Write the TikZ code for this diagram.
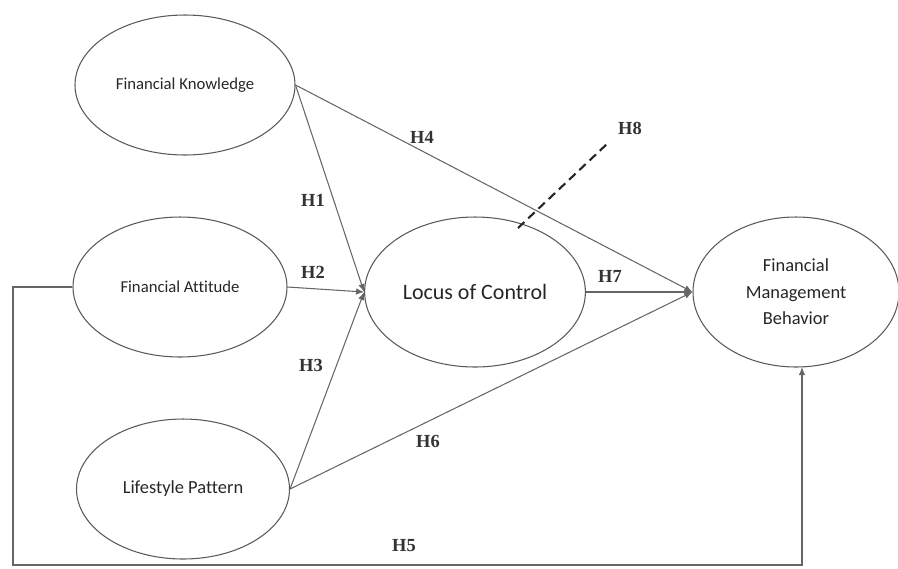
\documentclass[tikz,border=0pt]{standalone}
\usepackage{fontspec}
\setmainfont{Liberation Serif}
\newfontfamily\boxfont[Ligatures=NoCommon]{Carlito}
\usetikzlibrary{shapes.geometric}
\usetikzlibrary{arrows.meta}
\usetikzlibrary{positioning,calc}

\tikzset{
  construct/.style={ellipse, draw=black!65, line width=0.6pt, align=center,
                    font=\boxfont, text=black!85},
  path/.style={draw=black!60, line width=0.6pt, -{Latex[length=1.6mm,width=1.3mm]}},
  hyp/.style={font=\bfseries\fontsize{10.5}{12}\selectfont, text=black!80}
}

\begin{document}
\begin{tikzpicture}
   \useasboundingbox (0,0) rectangle (17.96,-11.36);

   \node[construct, minimum width=4.4cm,  minimum height=2.8cm, font=\boxfont\fontsize{9.5}{11}\selectfont] (fk)  at (3.70,-1.70) {Financial Knowledge};
   \node[construct, minimum width=4.28cm, minimum height=2.8cm, font=\boxfont\fontsize{9.5}{11}\selectfont] (fa)  at (3.60,-5.74) {Financial Attitude};
   \node[construct, minimum width=4.26cm, minimum height=2.8cm, font=\boxfont\fontsize{10.5}{12}\selectfont] (lp)  at (3.66,-9.78) {Lifestyle Pattern};
   \node[construct, minimum width=4.36cm, minimum height=3.0cm, font=\boxfont\fontsize{12.5}{14}\selectfont] (loc) at (9.50,-5.84) {Locus of Control};
   \node[construct, minimum width=4.12cm, minimum height=3.0cm, font=\boxfont\fontsize{10.5}{15}\selectfont] (fmb) at (15.92,-5.84) {Financial\\Management\\Behavior};

   % paths
   \draw[path] (fk.east) -- (loc.west);
   \draw[path] (fa.east) -- (loc.west);
   \draw[path] (lp.east) -- (loc.west);
   \draw[path] (fk.east) -- (fmb.west);
   \draw[path] (lp.east) -- (fmb.west);
   \draw[path] (loc.east) -- (fmb.west);

   \coordinate (h5turn) at (0.26,-11.30);
   \coordinate (h5end) at (16.04,-7.34);
   \draw[path] (fa.west) -| (h5turn) -| (h5end);

   % moderation
   \coordinate (h8a) at (10.36,-4.56);
   \coordinate (h8b) at (12.16,-2.86);
   \draw[black!85, line width=1.2pt, dash pattern=on 5pt off 3pt] (h8a) -- (h8b);

   % labels
   \node[hyp] (h1) at (6.26,-4.00) {H1};
   \node[hyp] (h2) at (6.26,-5.44) {H2};
   \node[hyp] (h3) at (6.22,-7.30) {H3};
   \node[hyp] (h4) at (8.44,-2.74) {H4};
   \node[hyp] (h5) at (8.08,-10.92) {H5};
   \node[hyp] (h6) at (8.56,-8.82) {H6};
   \node[hyp] (h7) at (12.20,-5.52) {H7};
   \node[hyp] (h8) at (12.60,-2.56) {H8};
\end{tikzpicture}
\end{document}
